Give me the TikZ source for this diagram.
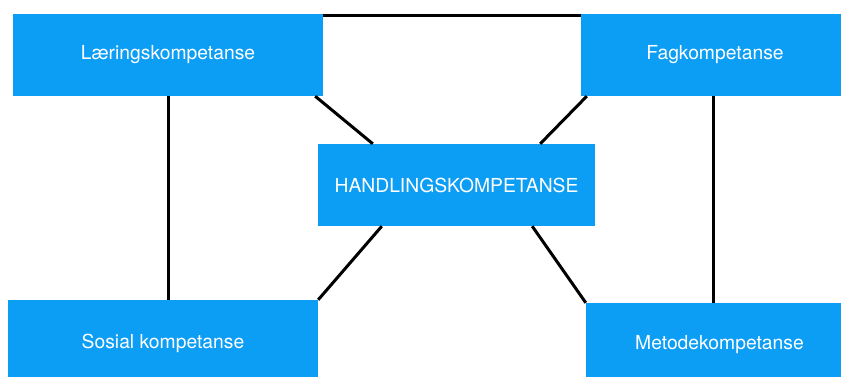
\documentclass[tikz,border=0pt]{standalone}
\usepackage{fontspec}
\setmainfont{TeX Gyre Heros}
\definecolor{boxblue}{RGB}{12,157,245}
\tikzset{
  kbox/.style={rectangle, fill=boxblue, draw=none, inner sep=0pt, text=white,
    font=\fontsize{19.3}{22}\selectfont},
  link/.style={draw=black, line width=3pt}
}
\begin{document}
\begin{tikzpicture}[x=1pt,y=-1pt]
\useasboundingbox (0,0) rectangle (841,376);
\node[kbox, minimum width=310pt, minimum height=82pt] (tl) at (168,55) {Læringskompetanse};
\node[kbox, minimum width=268pt, minimum height=82pt] (tr) at (715,55) {Fagkompetanse};
\node[kbox, minimum width=277pt, minimum height=82pt] (hk) at (456.5,185) {HANDLINGSKOMPETANSE};
\node[kbox, minimum width=310pt, minimum height=86pt] (bl) at (163,343) {Sosial kompetanse};
\node[kbox, minimum width=267pt, minimum height=84pt] (br) at (719.5,345) {Metodekompetanse};
\coordinate (rv) at (713,0);
\path[link] ([yshift=-1.5pt]tl.north east) -- ([yshift=-1.5pt]tr.north west);
\path[link] (tl.south) -- (tl.south |- bl.north);
\path[link] (tr.south -| rv) -- (br.north -| rv);
\path[link] ([xshift=-8pt]tl.south east) -- ([xshift=55pt]hk.north west);
\path[link] ([xshift=6pt]tr.south west) -- ([xshift=-55pt]hk.north east);
\path[link] ([xshift=64pt]hk.south west) -- (bl.north east);
\path[link] ([xshift=-63pt]hk.south east) -- (br.north west);
\end{tikzpicture}
\end{document}
